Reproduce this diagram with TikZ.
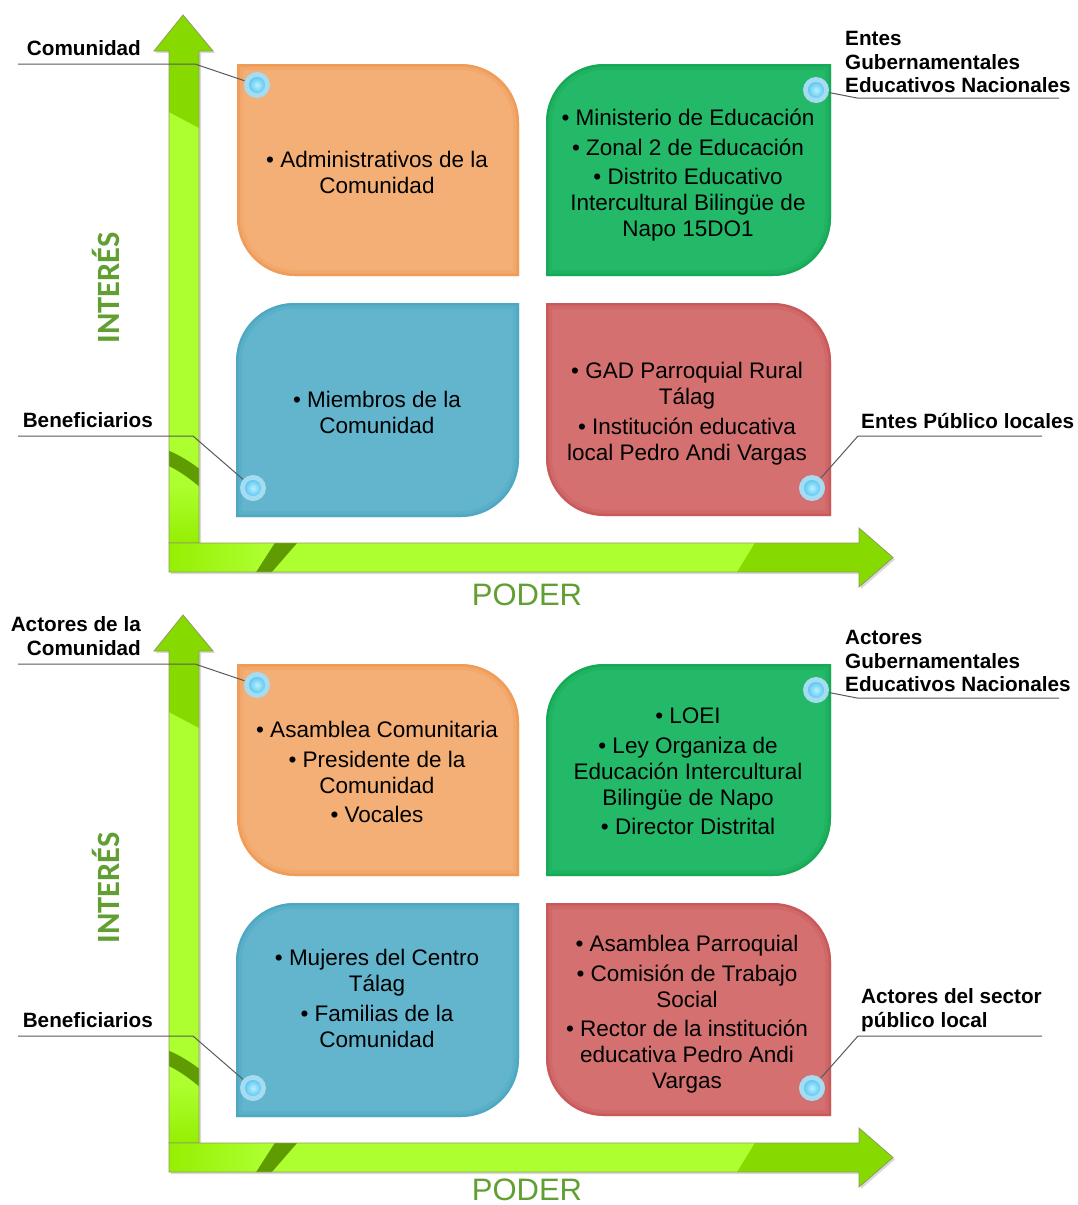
\documentclass[tikz,border=0pt]{standalone}
\usepackage{fontspec}
\setmainfont{Liberation Sans}
\newfontfamily\axisfont{Carlito}
\definecolor{lightg}{HTML}{ADFF2F}
\definecolor{darkg}{HTML}{86DA00}
\definecolor{cornerg}{HTML}{94EE00}
\definecolor{stripeg}{HTML}{5E9C02}
\definecolor{arrowline}{HTML}{8E9C5C}
\definecolor{axisgreen}{HTML}{629F33}
\definecolor{orfill}{HTML}{F4AF76}
\definecolor{oredge}{HTML}{EE8F45}
\definecolor{grfill}{HTML}{24B968}
\definecolor{gredge}{HTML}{0E9E4C}
\definecolor{blfill}{HTML}{62B5CC}
\definecolor{bledge}{HTML}{419FBA}
\definecolor{rdfill}{HTML}{D47070}
\definecolor{rdedge}{HTML}{C44A4C}
\definecolor{halo}{HTML}{A6DCF2}
\definecolor{dotin}{HTML}{B8F0FF}
\definecolor{dotout}{HTML}{2CB0EA}
\definecolor{calloutgray}{HTML}{5A5A5A}

% box with rounded top-right and bottom-left corners
\newcommand\pathA[4]{(#1,#2) -- ({#3-58},#2) .. controls ({#3-26},#2) and (#3,{#2+26}) .. (#3,{#2+58}) -- (#3,#4) -- ({#1+58},#4) .. controls ({#1+26},#4) and (#1,{#4-26}) .. (#1,{#4-58}) -- cycle}
% box with rounded top-left and bottom-right corners
\newcommand\pathB[4]{(#1,{#2+58}) .. controls (#1,{#2+26}) and ({#1+26},#2) .. ({#1+58},#2) -- (#3,#2) -- (#3,{#4-58}) .. controls (#3,{#4-26}) and ({#3-26},#4) .. ({#3-58},#4) -- (#1,#4) -- cycle}

\newcommand\qbox[7]{%
  \fill[#6] #1{#2}{#3}{#4}{#5};
  \begin{scope}
    \clip #1{#2}{#3}{#4}{#5};
    \draw[#7, line width=12pt, opacity=.22] #1{#2}{#3}{#4}{#5};
    \draw[#7, line width=5pt, opacity=.45] #1{#2}{#3}{#4}{#5};
  \end{scope}}

\newcommand\vertpath{(154,51) -- (183,15) -- (213,51) -- (199,51) -- (199,543) -- (169,543) -- (169,51) -- cycle}
\newcommand\horpath{(169,543) -- (859,543) -- (859,528) -- (893,557.5) -- (859,587) -- (859,572) -- (169,572) -- cycle}

\newcommand\axesdraw{%
  % vertical arrow
  \fill[black!15, shift={(2,2)}] \vertpath;
  \fill[lightg] \vertpath;
  \begin{scope}
    \clip \vertpath;
    \fill[darkg] (150,0) -- (220,0) -- (220,139) -- (150,102) -- cycle;
    \shade[top color=lightg, bottom color=cornerg] (165,485) rectangle (203,545);
    \fill[stripeg] (160,447) .. controls (178,454) and (192,462) .. (208,476) -- (208,494) .. controls (192,480) and (178,469) .. (160,462) -- cycle;
  \end{scope}
  \draw[arrowline, line width=0.8pt, line join=miter] \vertpath;
  % horizontal arrow
  \fill[black!15, shift={(2,2)}] \horpath;
  \fill[lightg] \horpath;
  \begin{scope}
    \clip \horpath;
    \fill[darkg] (769,520) -- (900,520) -- (900,595) -- (723,595) -- cycle;
    \shade[left color=cornerg, right color=lightg] (165,540) rectangle (262,575);
    \fill[stripeg] (280,535) -- (304,535) -- (265,580) -- (251,580) -- cycle;
  \end{scope}
  \draw[arrowline, line width=0.8pt, line join=miter] \horpath;}

\begin{document}
\begin{tikzpicture}[x=1pt, y=-1pt,
  boxtext/.style={align=center, inner sep=0pt, font=\fontsize{22.5}{26}\selectfont},
  lbl/.style={inner sep=0pt, font=\bfseries\fontsize{20.7}{23.5}\selectfont},
  callout/.style={draw=calloutgray, line width=1pt},
  dot/.style={circle, fill=halo, minimum size=26pt, inner sep=0pt,
    path picture={\shade[inner color=dotin, outer color=dotout] (path picture bounding box.center) circle (8pt);}},
  poderlbl/.style={inner sep=0pt, text=axisgreen, font=\fontsize{31}{31}\selectfont},
  interlbl/.style={inner sep=0pt, text=axisgreen, rotate=90, anchor=base, font=\axisfont\bfseries\fontsize{32.5}{33}\selectfont}]

\useasboundingbox (0,0) rectangle (1078,1205);
\fill[white] (0,0) rectangle (1078,1205);

% ---------- top diagram ----------
\axesdraw
\qbox{\pathA}{237}{64}{519}{276}{orfill}{oredge}
\qbox{\pathB}{546}{64}{831}{276}{grfill}{gredge}
\qbox{\pathB}{236}{303}{519}{517}{blfill}{bledge}
\qbox{\pathA}{546}{303}{831}{516}{rdfill}{rdedge}

% ---------- bottom diagram ----------
\begin{scope}[shift={(0,600)}]
\axesdraw
\qbox{\pathA}{237}{64}{519}{276}{orfill}{oredge}
\qbox{\pathB}{546}{64}{831}{276}{grfill}{gredge}
\qbox{\pathB}{236}{303}{519}{517}{blfill}{bledge}
\qbox{\pathA}{546}{303}{831}{516}{rdfill}{rdedge}
\end{scope}

% axis labels
\node[poderlbl] (p1) at (527,595) {PODER};
\node[poderlbl] (p2) at (527,1190) {PODER};
\node[interlbl] (i1) at (119,288) {INTERÉS};
\node[interlbl] (i2) at (119,888) {INTERÉS};

% box texts, top
\node[boxtext, anchor=north] (t1) at (377,151) {• Administrativos de la\\Comunidad};
\node[boxtext, anchor=north] (t2) at (688,109) {• Ministerio de Educación\\[3.5pt]• Zonal 2 de Educación\\[3.5pt]• Distrito Educativo\\Intercultural Bilingüe de\\Napo 15DO1};
\node[boxtext, anchor=north] (t3) at (377,391) {• Miembros de la\\Comunidad};
\node[boxtext, anchor=north] (t4) at (687,362) {• GAD Parroquial Rural\\Tálag\\[3.5pt]• Institución educativa\\local Pedro Andi Vargas};

% box texts, bottom
\node[boxtext, anchor=north] (t5) at (377,721) {• Asamblea Comunitaria\\[3.5pt]• Presidente de la\\Comunidad\\[3.5pt]• Vocales};
\node[boxtext, anchor=north] (t6) at (688,708) {• LOEI\\[3.5pt]• Ley Organiza de\\Educación Intercultural\\Bilingüe de Napo\\[3.5pt]• Director Distrital};
\node[boxtext, anchor=north] (t7) at (377,949) {• Mujeres del Centro\\Tálag\\[3.5pt]• Familias de la\\Comunidad};
\node[boxtext, anchor=north] (t8) at (687,935) {• Asamblea Parroquial\\[3.5pt]• Comisión de Trabajo\\Social\\[3.5pt]• Rector de la institución\\educativa Pedro Andi\\Vargas};

% callout labels
\node[lbl, anchor=base east] (l1) at (141,55) {Comunidad};
\node[lbl, anchor=north west, align=left] (l2) at (845,31.5) {Entes\\Gubernamentales\\Educativos Nacionales};
\node[lbl, anchor=base east] (l3) at (153,427) {Beneficiarios};
\node[lbl, anchor=base west] (l4) at (861,428) {Entes Público locales};
\node[lbl, anchor=north east, align=right] (l5) at (141,616.5) {Actores de la\\Comunidad};
\node[lbl, anchor=north west, align=left] (l6) at (845,630.5) {Actores\\Gubernamentales\\Educativos Nacionales};
\node[lbl, anchor=base east] (l7) at (153,1027) {Beneficiarios};
\node[lbl, anchor=north west, align=left] (l8) at (861,988.5) {Actores del sector\\público local};

% callout corner coordinates
\coordinate (k1a) at (18,64);    \coordinate (k1b) at (195,64);
\coordinate (k2a) at (1059,98);  \coordinate (k2b) at (857,98);
\coordinate (k3a) at (18,436);   \coordinate (k3b) at (193,436);
\coordinate (k4a) at (1042,436); \coordinate (k4b) at (858,436);
\coordinate (k5a) at (18,664);   \coordinate (k5b) at (195,664);
\coordinate (k6a) at (1059,698); \coordinate (k6b) at (857,698);
\coordinate (k7a) at (18,1036);  \coordinate (k7b) at (193,1036);
\coordinate (k8a) at (1042,1036);\coordinate (k8b) at (858,1036);

% dots
\node[dot] (d1) at (257,85) {};
\node[dot] (d2) at (816,90) {};
\node[dot] (d3) at (253,488) {};
\node[dot] (d4) at (812,488) {};
\node[dot] (d5) at (257,685) {};
\node[dot] (d6) at (816,690) {};
\node[dot] (d7) at (253,1088) {};
\node[dot] (d8) at (812,1088) {};

% callout lines
\draw[callout] (k1a) -- (k1b) -- (d1);
\draw[callout] (k2a) -- (k2b) -- (d2);
\draw[callout] (k3a) -- (k3b) -- (d3);
\draw[callout] (k4a) -- (k4b) -- (d4);
\draw[callout] (k5a) -- (k5b) -- (d5);
\draw[callout] (k6a) -- (k6b) -- (d6);
\draw[callout] (k7a) -- (k7b) -- (d7);
\draw[callout] (k8a) -- (k8b) -- (d8);
\end{tikzpicture}
\end{document}
